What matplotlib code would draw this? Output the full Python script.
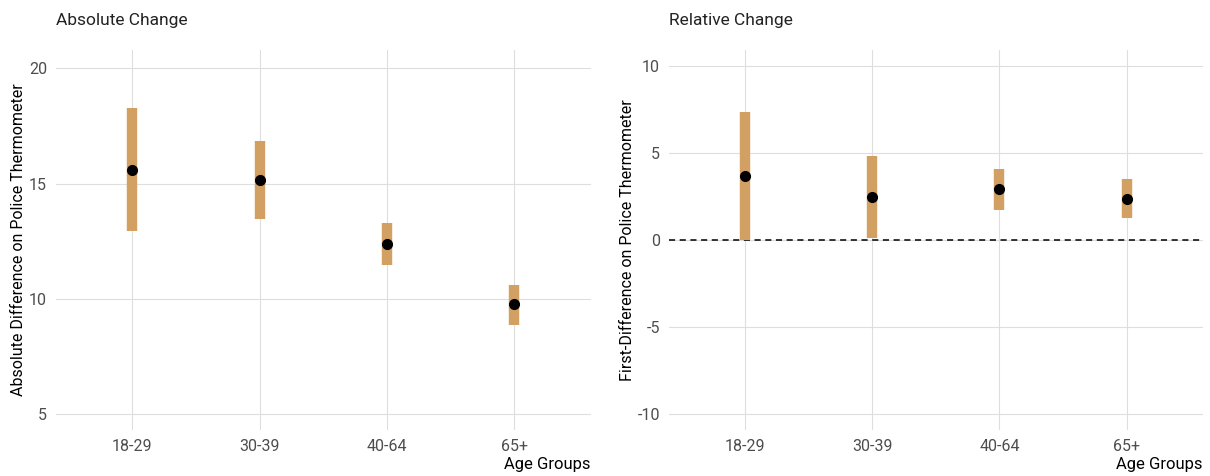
import matplotlib.pyplot as plt
import numpy as np

plt.rcParams['font.family'] = ['Roboto', 'DejaVu Sans']

# age groups and estimates with 95% intervals
age_groups = ['18-29', '30-39', '40-64', '65+']

abs_est = [15.6, 15.15, 12.37, 9.77]
abs_lo = [12.93, 13.45, 11.46, 8.86]
abs_hi = [18.27, 16.84, 13.28, 10.6]

rel_est = [3.7, 2.5, 2.95, 2.37]
rel_lo = [0.0, 0.12, 1.73, 1.27]
rel_hi = [7.4, 4.86, 4.1, 3.53]

bar_col = '#D2A063'
grid_col = '#DEDEDE'
tick_col = '#4D4D4D'

fig = plt.figure(figsize=(12.1, 4.76), dpi=100)
ax1 = fig.add_axes([0.0463, 0.0966, 0.442, 0.7985])
ax2 = fig.add_axes([0.553, 0.0966, 0.441, 0.7985])


def panel(ax, est, lo, hi, ylim, yticks, title, ylabel):
    x = np.arange(1, len(age_groups) + 1)
    ax.vlines(x, lo, hi, color=bar_col, linewidth=7.5, zorder=3)
    ax.plot(x, est, 'o', color='black', markersize=7, zorder=4)
    ax.set_xlim(0.4, 4.6)
    ax.set_ylim(*ylim)
    ax.set_xticks(x)
    ax.set_xticklabels(age_groups)
    ax.set_yticks(yticks)
    ax.set_yticklabels([str(t) for t in yticks])
    ax.grid(True, color=grid_col, linewidth=0.8)
    ax.set_axisbelow(True)
    for s in ax.spines.values():
        s.set_visible(False)
    ax.tick_params(length=0, labelsize=11.5, labelcolor=tick_col, pad=6.5)
    ax.set_ylabel(ylabel, fontsize=11.5, labelpad=2)
    ax.set_xlabel('Age Groups', fontsize=12, loc='right', labelpad=2)
    ax.set_title(title, fontsize=12.5, loc='left', pad=18, color='#222222')


panel(ax1, abs_est, abs_lo, abs_hi, (4.3, 20.8), [5, 10, 15, 20],
      'Absolute Change', 'Absolute Difference on Police Thermometer')
panel(ax2, rel_est, rel_lo, rel_hi, (-10.9, 10.95), [-10, -5, 0, 5, 10],
      'Relative Change', 'First-Difference on Police Thermometer')
ax2.axhline(0, color='black', linestyle=(0, (4, 3)), linewidth=1.1, zorder=2)

fig.savefig('out.png', dpi=100)
